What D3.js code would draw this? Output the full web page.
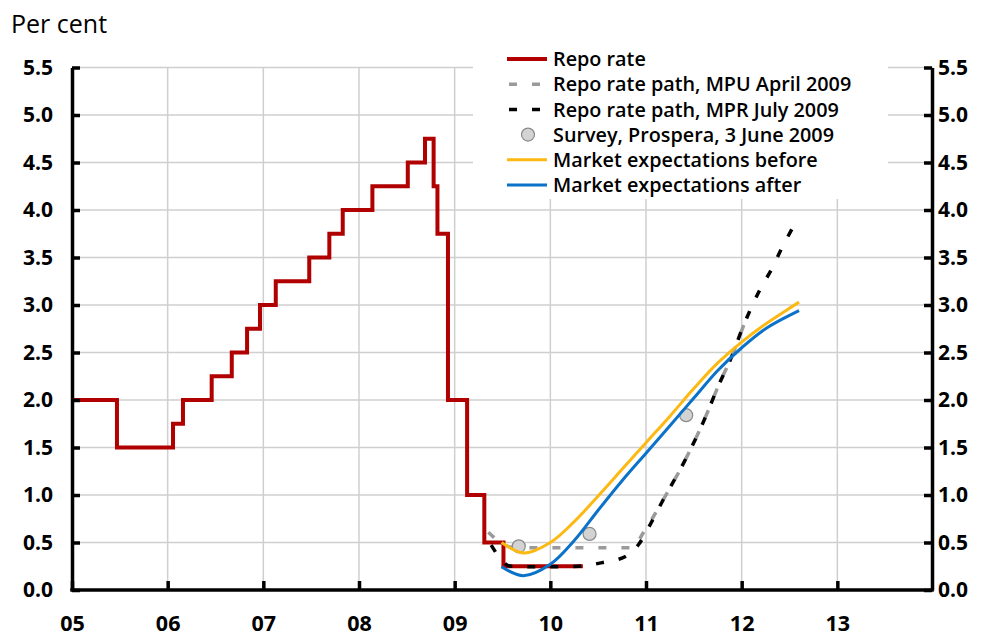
<!DOCTYPE html>
<html>
<head>
<meta charset="utf-8">
<script src="https://cdn.jsdelivr.net/npm/d3@7"></script>
<style>
  html, body { margin: 0; padding: 0; background: #fff; }
  svg { display: block; font-family: "Open Sans", "Noto Sans", sans-serif; }
</style>
</head>
<body>
<svg id="chart" width="987" height="637"></svg>
<script>
// ---------------- DATA ----------------
const yTicks = [0, 0.5, 1, 1.5, 2, 2.5, 3, 3.5, 4, 4.5, 5, 5.5];
const xTicks = [2005, 2006, 2007, 2008, 2009, 2010, 2011, 2012, 2013];
const xTickLabels = ["05", "06", "07", "08", "09", "10", "11", "12", "13"];

// Repo rate (step function, value valid from date)
const repoDates  = [2005.0, 2005.47, 2006.056, 2006.16, 2006.46, 2006.67, 2006.83, 2006.965, 2007.13, 2007.48, 2007.69, 2007.83, 2008.14, 2008.51, 2008.69, 2008.78, 2008.82, 2008.93, 2009.13, 2009.31, 2009.51, 2010.34];
const repoValues = [2.0, 1.5, 1.75, 2.0, 2.25, 2.5, 2.75, 3.0, 3.25, 3.5, 3.75, 4.0, 4.25, 4.5, 4.75, 4.25, 3.75, 2.0, 1.0, 0.5, 0.25, 0.25];

// Repo rate path, MPU April 2009
const mpuDates  = [2009.35, 2009.6, 2009.85, 2010.2, 2010.6, 2010.86, 2010.97, 2011.18, 2011.39, 2011.6, 2011.77, 2011.88, 2012.03];
const mpuValues = [0.61, 0.45, 0.445, 0.445, 0.445, 0.445, 0.6, 0.95, 1.33, 1.77, 2.18, 2.42, 2.81];

// Repo rate path, MPR July 2009
const mprDates  = [2009.37, 2009.59, 2009.8, 2010.1, 2010.3, 2010.55, 2010.78, 2010.93, 2011.05, 2011.18, 2011.39, 2011.6, 2011.77, 2011.88, 2012.03, 2012.19, 2012.32, 2012.42, 2012.56];
const mprValues = [0.49, 0.25, 0.245, 0.245, 0.25, 0.29, 0.35, 0.49, 0.7, 0.95, 1.33, 1.77, 2.18, 2.42, 2.81, 3.16, 3.39, 3.6, 3.86];

// Survey, Prospera, 3 June 2009
const surveyDates  = [2009.67, 2010.41, 2011.42];
const surveyValues = [0.46, 0.59, 1.84];

// Market expectations before
const beforeDates  = [2009.49, 2009.73, 2010.0, 2010.25, 2010.5, 2010.75, 2011.0, 2011.25, 2011.5, 2011.75, 2012.0, 2012.25, 2012.6];
const beforeValues = [0.50, 0.39, 0.50, 0.72, 0.99, 1.27, 1.55, 1.83, 2.12, 2.39, 2.61, 2.80, 3.03];

// Market expectations after
const afterDates  = [2009.49, 2009.72, 2010.0, 2010.25, 2010.5, 2010.75, 2011.0, 2011.25, 2011.5, 2011.75, 2012.0, 2012.25, 2012.6];
const afterValues = [0.245, 0.15, 0.27, 0.52, 0.84, 1.15, 1.44, 1.73, 2.02, 2.31, 2.55, 2.75, 2.94];

const legendLabels = [
  "Repo rate",
  "Repo rate path, MPU April 2009",
  "Repo rate path, MPR July 2009",
  "Survey, Prospera, 3 June 2009",
  "Market expectations before",
  "Market expectations after"
];

// ---------------- STYLE ----------------
const C = {
  red: "#b00000", gray: "#9a9a9a", black: "#000000",
  yellow: "#fdb913", blue: "#0a72c8", grid: "#cfcfcf",
  dotFill: "#d3d3d3", dotStroke: "#8a8a8a"
};

const svg = d3.select("#chart");
const pL = 72, pR = 933, pT = 67.5, pB = 590;

const x = d3.scaleLinear().domain([2005, 2014]).range([pL, pR]);
const y = d3.scaleLinear().domain([0, 5.5]).range([pB, pT]);

const zip = (a, b) => a.map((d, i) => [d, b[i]]);

// Grid
const grid = svg.append("g");
grid.selectAll("line.h").data(yTicks.filter(v => v > 0)).join("line").attr("class", "h")
  .attr("x1", pL).attr("x2", pR)
  .attr("y1", d => y(d)).attr("y2", d => y(d))
  .attr("stroke", C.grid).attr("stroke-width", 1.5);
grid.selectAll("line.v").data(xTicks.filter(v => v > 2005)).join("line").attr("class", "v")
  .attr("x1", d => x(d)).attr("x2", d => x(d))
  .attr("y1", pT).attr("y2", pB)
  .attr("stroke", C.grid).attr("stroke-width", 1.5);

// Legend background (white box hides grid)
svg.append("rect").attr("x", 473).attr("y", 45).attr("width", 415).attr("height", 154).attr("fill", "#fff");

// Lines
const stepLine = d3.line().x(d => x(d[0])).y(d => y(d[1])).curve(d3.curveStepAfter);
const smooth = d3.line().x(d => x(d[0])).y(d => y(d[1])).curve(d3.curveMonotoneX);
const smoothCR = d3.line().x(d => x(d[0])).y(d => y(d[1])).curve(d3.curveCatmullRom.alpha(0.5));

svg.append("path").datum(zip(repoDates, repoValues))
  .attr("d", stepLine)
  .attr("fill", "none").attr("stroke", C.red).attr("stroke-width", 4);

// Dashed paths with dash phases aligned so they interleave on their shared part
const dashLen = 8, period = 23;
function prefixLength(dates, values, upto) {
  const pts = zip(dates, values).filter(d => d[0] <= upto + 1e-9);
  const p = svg.append("path").attr("d", smooth(pts)).attr("fill", "none");
  const L = p.node().getTotalLength();
  p.remove();
  return L;
}
const shared = 2011.18;
const Lg = prefixLength(mpuDates, mpuValues, shared);
const Lb = prefixLength(mprDates, mprValues, shared);
const offG = ((Lg) % period + period) % period;
const offB = ((Lb - period / 2) % period + period) % period;

svg.append("path").datum(zip(mpuDates, mpuValues))
  .attr("d", smooth).attr("fill", "none").attr("stroke", C.gray).attr("stroke-width", 3.5)
  .attr("stroke-dasharray", dashLen + "," + (period - dashLen)).attr("stroke-dashoffset", offG);
svg.append("path").datum(zip(mprDates, mprValues))
  .attr("d", smooth).attr("fill", "none").attr("stroke", C.black).attr("stroke-width", 3.5)
  .attr("stroke-dasharray", dashLen + "," + (period - dashLen)).attr("stroke-dashoffset", offB);

// Survey dots
svg.selectAll("circle.survey").data(zip(surveyDates, surveyValues)).join("circle").attr("class", "survey")
  .attr("cx", d => x(d[0])).attr("cy", d => y(d[1])).attr("r", 6.5)
  .attr("fill", C.dotFill).attr("stroke", C.dotStroke).attr("stroke-width", 1.2);

svg.append("path").datum(zip(beforeDates, beforeValues))
  .attr("d", smoothCR).attr("fill", "none").attr("stroke", C.yellow).attr("stroke-width", 3);
svg.append("path").datum(zip(afterDates, afterValues))
  .attr("d", smoothCR).attr("fill", "none").attr("stroke", C.blue).attr("stroke-width", 3);

// Axes
const fmt = d3.format(".1f");
const gl = svg.append("g").attr("transform", `translate(${pL},0)`)
  .call(d3.axisLeft(y).tickValues(yTicks).tickFormat(fmt).tickSize(-8).tickSizeOuter(0).tickPadding(19));
const gr = svg.append("g").attr("transform", `translate(${pR - 1},0)`)
  .call(d3.axisRight(y).tickValues(yTicks).tickFormat(fmt).tickSize(-8).tickSizeOuter(0).tickPadding(6));
const gb = svg.append("g").attr("transform", `translate(0,${pB})`)
  .call(d3.axisBottom(x).tickValues(xTicks).tickFormat((d, i) => xTickLabels[i]).tickSize(-9).tickSizeOuter(0).tickPadding(26));

[gl, gr, gb].forEach(g => {
  g.select(".domain").attr("stroke", "#000").attr("stroke-width", 3.5);
  g.selectAll(".tick line").attr("stroke", "#000").attr("stroke-width", 3.5);
  g.selectAll(".tick text").attr("fill", "#000").attr("font-size", 21).attr("font-weight", 700)
    .attr("font-family", "'Open Sans', sans-serif");
});
gb.selectAll(".tick text").attr("font-size", 21.5);
gb.select(".domain").attr("d", `M${pL - 1.75},0H${pR + 0.75}`);

// Title "Per cent"
svg.append("text").attr("x", 11).attr("y", 33).attr("font-size", 25).attr("fill", "#000")
  .text("Per cent");

// Legend
const lg = svg.append("g");
const rowY = i => 59 + i * 25.2;
const lx1 = 507, lx2 = 547;
lg.append("line").attr("x1", lx1).attr("x2", lx2).attr("y1", rowY(0)).attr("y2", rowY(0))
  .attr("stroke", C.red).attr("stroke-width", 4);
lg.append("line").attr("x1", lx1 + 2).attr("x2", lx2).attr("y1", rowY(1)).attr("y2", rowY(1))
  .attr("stroke", C.gray).attr("stroke-width", 3.5).attr("stroke-dasharray", "8,15");
lg.append("line").attr("x1", lx1 + 2).attr("x2", lx2).attr("y1", rowY(2)).attr("y2", rowY(2))
  .attr("stroke", C.black).attr("stroke-width", 3.5).attr("stroke-dasharray", "8,15");
lg.append("circle").attr("cx", 528).attr("cy", rowY(3)).attr("r", 6.5)
  .attr("fill", C.dotFill).attr("stroke", C.dotStroke).attr("stroke-width", 1.2);
lg.append("line").attr("x1", lx1).attr("x2", lx2).attr("y1", rowY(4)).attr("y2", rowY(4))
  .attr("stroke", C.yellow).attr("stroke-width", 3);
lg.append("line").attr("x1", lx1).attr("x2", lx2).attr("y1", rowY(5)).attr("y2", rowY(5))
  .attr("stroke", C.blue).attr("stroke-width", 3);
lg.selectAll("text").data(legendLabels).join("text")
  .attr("x", 553).attr("y", (d, i) => rowY(i)).attr("dy", "0.36em")
  .attr("font-size", 19.8).attr("font-weight", 600).attr("fill", "#000")
  .text(d => d);
</script>
</body>
</html>
